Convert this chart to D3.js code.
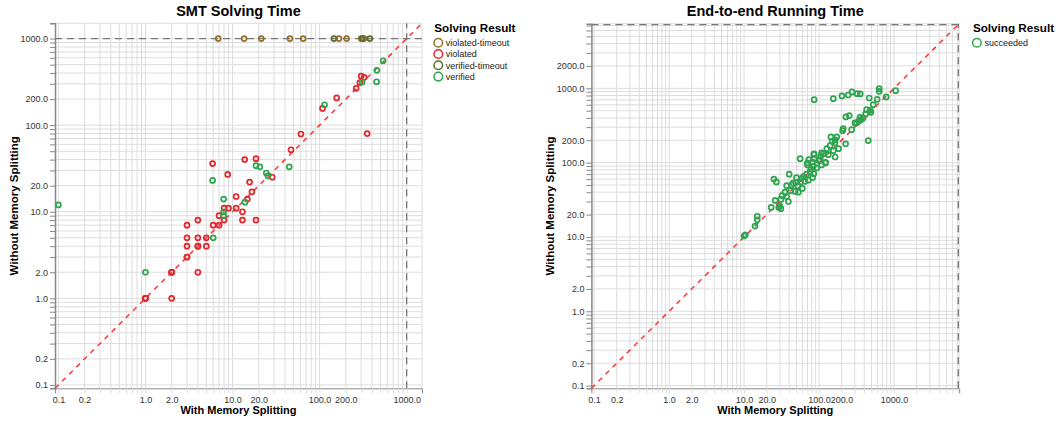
<!DOCTYPE html>
<html>
<head>
<meta charset="utf-8">
<script src="https://cdn.jsdelivr.net/npm/d3@7"></script>
<style>
  body { margin: 0; background: #fff; }
  svg text { font-family: "Liberation Sans", Arial, sans-serif; }
</style>
</head>
<body>
<svg id="chart" width="1062" height="421"></svg>
<script>
// ---- data (seconds) ----
// SMT solving time: [with memory splitting, without memory splitting]
var smtViolatedTimeout = [[6.85,1000],[13.6,1000],[21.4,1000],[45.6,1000],[64.8,1000],[167,1000],[204,1000],[300,1000],[323,1000]];
var smtViolated = [
  [61,79],[352,80],[108,156],[157,206],[263,266],[290,309],[300,369],[325,357],
  [47,52],[5.9,36],[13.8,40],[18.6,41],[8.8,27],[28.6,25],[15.7,22],[16.7,17],[11,15],[14.8,14],
  [8,11],[9,11],[11,11],[13,10],[7,9],[8,8],[13,8],[18.6,8],[4,8],[3,7],[6,7],[7,7],
  [3,5],[4,5],[5,5],[3,4],[4,4],[4,4],[5,4],[3,3],[3,3],[2,2],[2,2],[2,2],[4,2],
  [1,1],[1,1],[1,1],[2,1]
];
var smtVerifiedTimeout = [[146,1000],[310,1000],[378,1000]];
var smtVerified = [
  [537,554],[455,430],[451,317],[308,315],[114,172],[44.8,33],[18.6,34],[20.6,33],[24.4,28],
  [25.5,26],[5.9,23],[13.9,12.9],[7.9,14],[7.9,10],[7.9,9],[6,5],[1,2],[0.1,12]
];

// end-to-end running time: [with, without]
var e2eSucceeded = [
  [86,704],[155,726],[202,789],[245,813],[275,893],[323,847],[354,839],[467,741],[635,989],[635,910],
  [1050,930],[787,765],[597,710],[528,603],[482,505],[431,516],[418,452],[492,475],[388,399],[362,378],
  [337,359],[317,342],[301,342],[351,406],[253,429],[228,412],[453,198],[272,278],[210,287],[206,269],
  [172,222],[144,222],[164,202],[150,194],[163,184],[226,179],[140,169],[182,154],[127,154],[155,145],
  [114,131],[133,128],[86,131],[164,119],[105,122],[56,113],[73,110],[86,113],[100,106],[70,99],
  [122,101],[82,102],[85,129],[108,135],[103,110],[122,99],[70,93],[84,89],[78,82],[93,85],
  [108,93],[76,75],[85,71],[68,70],[62,65],[82,63],[72,58],[50,63],[58,61],[65,56],
  [49,54],[57,55],[45,53],[40,70],[25,60],[27,55],[43,50],[37,49],[52,49],[60,45],
  [53,40],[48,41],[42,42],[35,40],[32,36],[37,35],[31,32],[26,31],[39,30],[30,26],
  [31,24],[29,25],[23,25],[15,19],[15,17],[14,14],[10,10.3],[10.4,10.7]
];

var smtResults = ["violated-timeout", "violated", "verified-timeout", "verified"];
var smtColors = ["#94702c", "#e3262b", "#5b6e2e", "#2ea44f"];
var e2eResults = ["succeeded"];
var e2eColors = ["#2ea44f"];

// tick labels shown on the log axes
var smtTickLabels = [0.1, 0.2, 1, 2, 10, 20, 100, 200, 1000];
var e2eXTickLabels = [0.1, 0.2, 1, 2, 10, 20, 100, 200, 1000];
var e2eYTickLabels = [0.1, 0.2, 1, 2, 10, 20, 100, 200, 1000, 2000];

var svg = d3.select("#chart");

// all 1..9 x 10^k values inside a domain, used for grid + ticks
function logSteps(domain) {
	var out = [];
	for (var k = -2; k <= 4; k++) {
		for (var m = 1; m <= 9; m++) {
			var v = +(m * Math.pow(10, k)).toPrecision(3);
			if (v >= domain[0] && v <= domain[1]) out.push(v);
		}
	}
	return out;
}

function drawPanel(opt) {
	var g = svg.append("g");
	var x = d3.scaleLog().domain(opt.domain).range(opt.xRange);
	var y = d3.scaleLog().domain(opt.domain).range(opt.yRange);
	var steps = logSteps(opt.domain);
	var fmt = d3.format(".1f");

	// grid
	var grid = g.append("g");
	grid.selectAll("line.gx").data(steps).enter().append("line")
		.attr("x1", d => x(d)).attr("x2", d => x(d))
		.attr("y1", opt.yRange[0]).attr("y2", opt.yRange[1])
		.attr("stroke", "#ddd").attr("stroke-width", 1);
	grid.selectAll("line.gy").data(steps).enter().append("line")
		.attr("y1", d => y(d)).attr("y2", d => y(d))
		.attr("x1", opt.xRange[0]).attr("x2", opt.xRange[1])
		.attr("stroke", "#ddd").attr("stroke-width", 1);
	// top/right edges of the grid
	grid.append("line").attr("x1", opt.xRange[0]).attr("x2", opt.xRange[1])
		.attr("y1", opt.yRange[1]).attr("y2", opt.yRange[1]).attr("stroke", "#ddd");
	grid.append("line").attr("x1", opt.xRange[1]).attr("x2", opt.xRange[1])
		.attr("y1", opt.yRange[0]).attr("y2", opt.yRange[1]).attr("stroke", "#ddd");

	// axes
	var xAxis = d3.axisBottom(x).tickValues(steps).tickSize(5).tickPadding(3)
		.tickFormat(d => opt.xLabels.indexOf(d) >= 0 ? fmt(d) : "");
	var gx = g.append("g").attr("transform", "translate(0," + opt.yRange[0] + ")").call(xAxis);
	gx.select(".domain").attr("stroke", "#888");
	gx.selectAll(".tick line").attr("stroke", "#ddd");

	var yAxis = d3.axisLeft(y).tickValues(steps).tickSize(5).tickPadding(2)
		.tickFormat(d => opt.yLabels.indexOf(d) >= 0 ? fmt(d) : "");
	var gy = g.append("g").attr("transform", "translate(" + opt.xRange[0] + ",0)").call(yAxis);
	gy.select(".domain").attr("stroke", "#888").attr("stroke-width", 1.5);
	gy.selectAll(".tick line").attr("stroke", "#888");

	g.selectAll(".tick text").attr("font-size", 9).attr("fill", "#333")
		.attr("font-family", "Liberation Sans, Arial, sans-serif");

	// timeout lines
	g.append("line")
		.attr("x1", opt.xRange[0]).attr("x2", opt.xRange[1])
		.attr("y1", y(opt.timeout)).attr("y2", y(opt.timeout))
		.attr("stroke", "#777").attr("stroke-width", 1.3).attr("stroke-dasharray", "7,5");
	g.append("line")
		.attr("x1", x(opt.timeout)).attr("x2", x(opt.timeout))
		.attr("y1", opt.yRange[0]).attr("y2", opt.yRange[1])
		.attr("stroke", "#777").attr("stroke-width", 1.3).attr("stroke-dasharray", "7,5");

	// y = x
	g.append("line")
		.attr("x1", x(opt.domain[0])).attr("y1", y(opt.domain[0]))
		.attr("x2", x(opt.domain[1])).attr("y2", y(opt.domain[1]))
		.attr("stroke", "#ff3333").attr("stroke-width", 1.5).attr("stroke-dasharray", "5,5");

	// points
	opt.series.forEach(function (s, i) {
		g.append("g").selectAll("circle").data(s).enter().append("circle")
			.attr("cx", d => x(d[0]))
			.attr("cy", d => y(d[1]))
			.attr("r", 2.5)
			.attr("fill", "none")
			.attr("stroke", opt.colors[i])
			.attr("stroke-width", 1.7);
	});

	// titles
	var cx = (opt.xRange[0] + opt.xRange[1]) / 2;
	g.append("text").attr("x", cx).attr("y", 16).attr("text-anchor", "middle")
		.attr("font-size", 14.5).attr("font-weight", "bold").attr("fill", "#000").text(opt.title);
	g.append("text").attr("x", cx).attr("y", 414).attr("text-anchor", "middle")
		.attr("font-size", 11).attr("font-weight", "bold").attr("fill", "#000").text("With Memory Splitting");
	var cy = (opt.yRange[0] + opt.yRange[1]) / 2;
	g.append("text").attr("transform", "translate(" + (opt.xRange[0] - 37) + "," + cy + ") rotate(-90)")
		.attr("text-anchor", "middle").attr("font-size", 11.5).attr("font-weight", "bold")
		.attr("fill", "#000").text("Without Memory Splitting");

	// legend
	var lg = g.append("g").attr("transform", "translate(" + opt.legendX + ",0)");
	lg.append("text").attr("x", 0).attr("y", 32).attr("font-size", 11.7)
		.attr("font-weight", "bold").attr("fill", "#000").text("Solving Result");
	opt.names.forEach(function (n, i) {
		var yy = 42.7 + i * 11.3;
		lg.append("circle").attr("cx", 4).attr("cy", yy).attr("r", 4.3)
			.attr("fill", "none").attr("stroke", opt.colors[i]).attr("stroke-width", 1.5);
		lg.append("text").attr("x", 11.5).attr("y", yy + 3.3).attr("font-size", 9)
			.attr("fill", "#222").text(n);
	});
}

drawPanel({
	title: "SMT Solving Time",
	domain: [0.0914, 1500],
	xRange: [55, 422],
	yRange: [388.3, 23.3],
	timeout: 1000,
	xLabels: smtTickLabels,
	yLabels: smtTickLabels,
	series: [smtViolatedTimeout, smtViolated, smtVerifiedTimeout, smtVerified],
	colors: smtColors,
	names: smtResults,
	legendX: 434.3
});

drawPanel({
	title: "End-to-end Running Time",
	domain: [0.092, 7400],
	xRange: [591.4, 959.2],
	yRange: [388.3, 23.7],
	timeout: 7200,
	xLabels: e2eXTickLabels,
	yLabels: e2eYTickLabels,
	series: [e2eSucceeded],
	colors: e2eColors,
	names: e2eResults,
	legendX: 972.9
});
</script>
</body>
</html>
